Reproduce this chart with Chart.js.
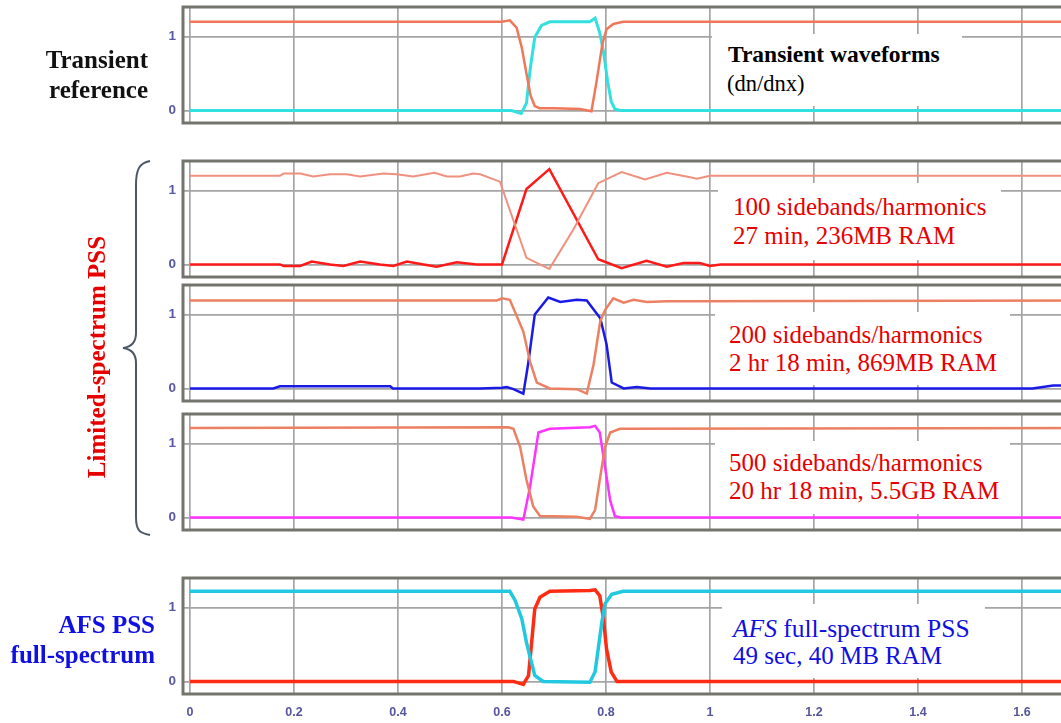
<!DOCTYPE html>
<html><head><meta charset="utf-8">
<script src="https://cdn.jsdelivr.net/npm/chart.js@4.4.1/dist/chart.umd.min.js"></script>
<style>
html,body{margin:0;padding:0;background:#fff;overflow:hidden;width:1061px;height:723px;}
#wrap{position:relative;width:1061px;height:723px;overflow:hidden;}
canvas{position:absolute;left:0;}
.t{position:absolute;white-space:nowrap;line-height:1;font-family:"Liberation Serif","Times New Roman",serif;}
.box{position:absolute;background:#fff;}
</style></head><body><div id="wrap">
<canvas id="c1" width="1100" height="120" style="top:5px"></canvas>
<canvas id="c2" width="1100" height="120" style="top:159px"></canvas>
<canvas id="c3" width="1100" height="120" style="top:283px"></canvas>
<canvas id="c4" width="1100" height="120" style="top:412px"></canvas>
<canvas id="c5" width="1100" height="148" style="top:576px"></canvas>

<div class="box" style="left:712px;top:34px;width:250px;height:72px"></div>
<div class="box" style="left:718px;top:183px;width:283px;height:77px"></div>
<div class="box" style="left:715px;top:312px;width:295px;height:73px"></div>
<div class="box" style="left:715px;top:441px;width:295px;height:73px"></div>
<div class="box" style="left:722px;top:604px;width:263px;height:74px"></div>

<div class="t" style="left:728px;top:43px;font-size:23.5px;font-weight:bold;color:#000">Transient waveforms</div>
<div class="t" style="left:727px;top:73px;font-size:22.5px;color:#000">(dn/dnx)</div>
<div class="t" style="left:733px;top:194px;font-size:25px;color:#e60000">100 sidebands/harmonics</div>
<div class="t" style="left:733px;top:223px;font-size:25px;color:#e60000">27 min, 236MB RAM</div>
<div class="t" style="left:729px;top:322px;font-size:25px;color:#e60000">200 sidebands/harmonics</div>
<div class="t" style="left:729px;top:350px;font-size:25px;color:#e60000">2 hr 18 min, 869MB RAM</div>
<div class="t" style="left:729px;top:450px;font-size:25px;color:#e60000">500 sidebands/harmonics</div>
<div class="t" style="left:729px;top:478px;font-size:25px;color:#e60000">20 hr 18 min, 5.5GB RAM</div>
<div class="t" style="left:733px;top:616px;font-size:25.5px;color:#1010e0"><i>AFS</i> full-spectrum PSS</div>
<div class="t" style="left:733px;top:643px;font-size:25px;color:#1010e0">49 sec, 40 MB RAM</div>

<div class="t" style="right:913px;top:47px;font-size:25px;font-weight:bold;color:#111;text-align:right">Transient</div>
<div class="t" style="right:913px;top:77px;font-size:25px;font-weight:bold;color:#111;text-align:right">reference</div>
<div class="t" style="right:906px;top:612px;font-size:25px;font-weight:bold;color:#1010e0;text-align:right">AFS PSS</div>
<div class="t" style="right:906px;top:642px;font-size:25px;font-weight:bold;color:#1010e0;text-align:right">full-spectrum</div>
<div class="t" style="left:96px;top:357px;font-size:25px;font-weight:bold;color:#e60000;transform:translate(-50%,-50%) rotate(-90deg)">Limited-spectrum PSS</div>

<svg style="position:absolute;left:0;top:0" width="200" height="560">
<path d="M150,161 C139,163 136,170 136,185 L136,333 C136,343 131,347 123,348 C131,349 136,353 136,363 L136,517 C136,530 139,533 150,535" fill="none" stroke="#4c5868" stroke-width="2"/>
</svg>
</div>
<script>
// ---- tick values / labels ----
const xTickValues = [0, 0.2, 0.4, 0.6, 0.8, 1, 1.2, 1.4, 1.6];
const xTickLabels = ['0', '0.2', '0.4', '0.6', '0.8', '1', '1.2', '1.4', '1.6'];
const yTickValues = [0, 1];
const yTickLabels = ['0', '1'];

// ---- Panel 1: transient reference ----
const refSalmonX = [0, 0.6, 0.615, 0.628, 0.638, 0.647, 0.655, 0.663, 0.672, 0.70, 0.75, 0.772, 0.782, 0.793, 0.801, 0.814, 0.833, 1.75];
const refSalmonY = [1.2, 1.2, 1.22, 1.12, 0.85, 0.5, 0.2, 0.06, 0.03, 0.03, 0.02, -0.01, 0.4, 0.9, 1.1, 1.17, 1.2, 1.2];
const refCyanX = [0, 0.618, 0.637, 0.647, 0.654, 0.663, 0.676, 0.692, 0.769, 0.779, 0.788, 0.795, 0.803, 0.81, 0.817, 0.827, 1.75];
const refCyanY = [0, 0, -0.04, 0.1, 0.55, 0.99, 1.15, 1.2, 1.2, 1.25, 1.05, 0.8, 0.4, 0.12, 0.02, 0, 0];

// ---- Panel 2: 100 sidebands ----
const h100SalmonX = [0, 0.173, 0.18, 0.212, 0.237, 0.269, 0.301, 0.327, 0.372, 0.397, 0.429, 0.47, 0.494, 0.519, 0.545, 0.558, 0.596, 0.647, 0.691, 0.737, 0.785, 0.83, 0.875, 0.917, 0.962, 0.975, 1.0, 1.75];
const h100SalmonY = [1.2, 1.2, 1.23, 1.23, 1.19, 1.22, 1.22, 1.19, 1.23, 1.22, 1.19, 1.24, 1.19, 1.19, 1.23, 1.22, 1.12, 0.09, -0.06, 0.47, 1.1, 1.25, 1.15, 1.24, 1.18, 1.16, 1.2, 1.2];
const h100RedX = [0, 0.173, 0.18, 0.212, 0.234, 0.269, 0.295, 0.327, 0.365, 0.391, 0.417, 0.449, 0.474, 0.513, 0.551, 0.6, 0.647, 0.691, 0.785, 0.83, 0.878, 0.917, 0.949, 0.98, 1.0, 1.02, 1.75];
const h100RedY = [0, 0, -0.02, -0.02, 0.04, 0.0, -0.02, 0.04, 0.0, -0.02, 0.04, 0.0, -0.03, 0.03, 0.0, 0.0, 1.02, 1.29, 0.07, -0.05, 0.05, -0.03, 0.02, 0.02, -0.02, 0, 0];

// ---- Panel 3: 200 sidebands ----
const h200SalmonX = [0, 0.59, 0.6, 0.615, 0.641, 0.654, 0.667, 0.692, 0.744, 0.763, 0.776, 0.789, 0.798, 0.814, 0.834, 0.853, 0.879, 0.917, 0.942, 1.75];
const h200SalmonY = [1.19, 1.19, 1.22, 1.2, 0.77, 0.36, 0.08, 0, -0.01, -0.07, 0.32, 0.91, 1.06, 1.22, 1.16, 1.2, 1.17, 1.18, 1.18, 1.19];
const h200BlueX = [0, 0.16, 0.173, 0.385, 0.39, 0.558, 0.6, 0.609, 0.622, 0.641, 0.65, 0.663, 0.689, 0.712, 0.744, 0.763, 0.789, 0.801, 0.811, 0.834, 0.859, 0.885, 1.62, 1.66, 1.75];
const h200BlueY = [0, 0, 0.03, 0.03, 0, 0, 0.01, 0.02, -0.01, -0.07, 0.32, 1.0, 1.23, 1.17, 1.2, 1.19, 0.95, 0.6, 0.08, 0, 0.02, 0, 0, 0.04, 0.04];

// ---- Panel 4: 500 sidebands ----
const h500SalmonX = [0, 0.612, 0.622, 0.635, 0.647, 0.66, 0.673, 0.744, 0.769, 0.779, 0.788, 0.798, 0.808, 0.827, 1.75];
const h500SalmonY = [1.21, 1.22, 1.2, 0.95, 0.51, 0.15, 0.02, 0.01, -0.02, 0.1, 0.51, 0.95, 1.15, 1.2, 1.21];
const h500MagentaX = [0, 0.618, 0.641, 0.654, 0.67, 0.692, 0.769, 0.779, 0.788, 0.798, 0.808, 0.817, 0.827, 1.75];
const h500MagentaY = [0, 0, -0.03, 0.42, 1.15, 1.2, 1.22, 1.24, 1.15, 0.69, 0.23, 0.02, 0, 0];

// ---- Panel 5: AFS full-spectrum ----
const afsCyanX = [0, 0.615, 0.625, 0.638, 0.647, 0.654, 0.663, 0.679, 0.769, 0.779, 0.785, 0.792, 0.798, 0.811, 0.833, 1.75];
const afsCyanY = [1.22, 1.22, 1.1, 0.85, 0.53, 0.33, 0.08, 0, -0.01, 0.13, 0.44, 0.8, 1.05, 1.18, 1.22, 1.22];
const afsRedX = [0, 0.622, 0.641, 0.651, 0.657, 0.663, 0.673, 0.692, 0.769, 0.779, 0.788, 0.795, 0.801, 0.81, 0.821, 1.75];
const afsRedY = [0, 0, -0.04, 0.08, 0.53, 0.98, 1.14, 1.22, 1.23, 1.24, 1.16, 0.85, 0.44, 0.13, 0, 0];

function pts(xs, ys) { return xs.map((x, i) => ({ x: x, y: ys[i] })); }

const framePlugin = {
  id: 'frame',
  afterDatasetsDraw(chart) {
    const a = chart.chartArea, ctx = chart.ctx;
    ctx.save();
    ctx.strokeStyle = '#74746e';
    ctx.lineWidth = 3;
    ctx.strokeRect(a.left, a.top, a.right - a.left, a.bottom - a.top);
    ctx.restore();
  }
};

function makePanel(id, series, showX) {
  new Chart(document.getElementById(id), {
    type: 'line',
    data: {
      datasets: series.map(s => ({
        data: pts(s.x, s.y), borderColor: s.color, borderWidth: s.w,
        pointRadius: 0, tension: 0, fill: false
      }))
    },
    options: {
      responsive: false, animation: false, devicePixelRatio: 1,
      layout: { autoPadding: false, padding: { top: 2, bottom: showX ? 0 : 2, left: 0, right: 0 } },
      plugins: { legend: { display: false }, tooltip: { enabled: false } },
      scales: {
        x: {
          type: 'linear', min: -0.0135, max: 1.75,
          afterBuildTicks: s => { s.ticks = xTickValues.map(v => ({ value: v })); },
          afterFit: s => { s.height = showX ? 30 : 0; s.paddingLeft = 0; s.paddingRight = 0; s.paddingTop = 0; s.paddingBottom = 0; },
          grid: { color: '#a5a5a5', lineWidth: 1.7, drawTicks: false },
          border: { display: false },
          ticks: {
            display: showX, padding: 11, color: '#55559e', autoSkip: false, maxRotation: 0,
            font: { family: 'Liberation Sans', size: 12.5, weight: 'bold' },
            callback: (v, i) => xTickLabels[i]
          }
        },
        y: {
          type: 'linear', min: -0.17, max: 1.4,
          afterBuildTicks: s => { s.ticks = yTickValues.map(v => ({ value: v })); },
          afterFit: s => { s.width = 183; s.paddingTop = 0; s.paddingBottom = 0; s.paddingLeft = 0; s.paddingRight = 0; },
          grid: { color: '#a5a5a5', lineWidth: 1.7, drawTicks: false },
          border: { display: false },
          ticks: {
            padding: 7, color: '#5858a6',
            font: { family: 'Liberation Sans', size: 13.5, weight: 'bold' },
            callback: (v, i) => yTickLabels[i]
          }
        }
      }
    },
    plugins: [framePlugin]
  });
}

makePanel('c1', [
  { x: refSalmonX, y: refSalmonY, color: '#f0785a', w: 2.5 },
  { x: refCyanX, y: refCyanY, color: '#33e0e0', w: 3 }
], false);
makePanel('c2', [
  { x: h100SalmonX, y: h100SalmonY, color: '#f0907e', w: 2 },
  { x: h100RedX, y: h100RedY, color: '#ff1a1a', w: 2.5 }
], false);
makePanel('c3', [
  { x: h200SalmonX, y: h200SalmonY, color: '#ec8062', w: 2.5 },
  { x: h200BlueX, y: h200BlueY, color: '#1a1ae6', w: 2.5 }
], false);
makePanel('c4', [
  { x: h500SalmonX, y: h500SalmonY, color: '#ec8062', w: 2.5 },
  { x: h500MagentaX, y: h500MagentaY, color: '#ff33ff', w: 2.5 }
], false);
makePanel('c5', [
  { x: afsCyanX, y: afsCyanY, color: '#22c8e0', w: 3.5 },
  { x: afsRedX, y: afsRedY, color: '#ff2c14', w: 3.5 }
], true);
</script>
</body></html>
